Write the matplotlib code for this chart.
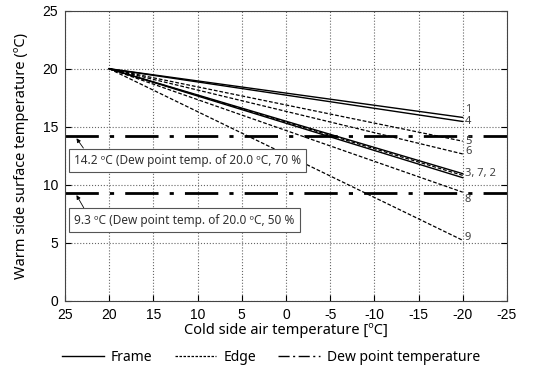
import numpy as np
import matplotlib
matplotlib.use("Agg")
from matplotlib import pyplot as plt
from matplotlib.lines import Line2D

plt.rcParams['font.family'] = ['Noto Sans', 'DejaVu Sans']
plt.rcParams['axes.unicode_minus'] = False

# cold side air temperature range of every line
cold_t = [20, -20]
# warm side surface temperature at 20 / -20 C
frame_ids = ['1', '4', '3', '2']
frame_start = [20.0, 20.0, 20.0, 20.0]
frame_end = [15.8, 15.45, 10.95, 10.6]
edge_ids = ['5', '6', '7', '8', '9']
edge_start = [20.0, 20.0, 20.0, 20.0, 20.0]
edge_end = [13.75, 12.65, 10.8, 9.35, 5.2]

dew_values = [14.2, 9.3]
dew_texts = ['14.2 ºC (Dew point temp. of 20.0 ºC, 70 %',
             '9.3 ºC (Dew point temp. of 20.0 ºC, 50 %']

# text labels at the right end of lines
end_labels = ['1', '4', '5', '6', '3, 7, 2', '8', '9']
end_label_y = [16.5, 15.45, 13.75, 12.85, 10.95, 8.7, 5.45]

xticks = [25, 20, 15, 10, 5, 0, -5, -10, -15, -20, -25]
yticks = [0, 5, 10, 15, 20, 25]

fig = plt.figure(figsize=(5.37, 3.72), dpi=100)
ax = fig.add_axes([0.121, 0.192, 0.823, 0.779])

for s, e in zip(frame_start, frame_end):
    ax.plot(cold_t, [s, e], color='black', lw=1.0, ls='-')
for s, e in zip(edge_start, edge_end):
    ax.plot(cold_t, [s, e], color='black', lw=0.9, ls=(0, (3, 1.5)))

for v in dew_values:
    ax.plot([25, -25], [v, v], color='black', lw=2.0, ls=(0, (12, 4, 1.5, 4)))

for lab, y in zip(end_labels, end_label_y):
    ax.text(-20.25, y, lab, fontsize=8, color='#404040', ha='left', va='center',
            zorder=5)

box_y = [12.1, 6.95]
for v, t, by in zip(dew_values, dew_texts, box_y):
    ax.annotate(t, xy=(23.7, v - 0.2), xytext=(24.0, by),
                fontsize=8.5, color='#303030', ha='left', va='center',
                bbox=dict(boxstyle='square,pad=0.45', fc='white', ec='#555555', lw=0.8),
                arrowprops=dict(arrowstyle='-|>', color='black', lw=0.6,
                                mutation_scale=6, shrinkA=0, shrinkB=0,
                                relpos=(0.06, 1.0)))

ax.set_xlim(25, -25)
ax.set_ylim(0, 25)
ax.set_xticks(xticks)
ax.set_yticks(yticks)
ax.tick_params(direction='in', length=4, labelsize=10, top=False, right=True, pad=5)
for lab in ax.get_xticklabels() + ax.get_yticklabels():
    lab.set_family(['Liberation Sans', 'DejaVu Sans'])
ax.grid(True, color='#666666', ls=':', lw=0.8)
for sp in ax.spines.values():
    sp.set_color('#444444')
    sp.set_linewidth(0.8)

ax.set_xlabel('Cold side air temperature [ºC]', fontsize=10.5, labelpad=1)
ax.set_ylabel('Warm side surface temperature (ºC)', fontsize=10.5, labelpad=10)

handles = [
    Line2D([], [], color='black', lw=1.0, ls='-'),
    Line2D([], [], color='black', lw=0.9, ls=(0, (2, 1.2))),
    Line2D([], [], color='black', lw=1.0, ls=(0, (8, 2.5, 1.5, 2.5))),
]
fig.legend(handles, ['Frame', 'Edge', 'Dew point temperature'], loc='center',
           bbox_to_anchor=(0.505, 0.04), ncol=3, frameon=False, fontsize=10,
           handlelength=3.0, columnspacing=1.6, handletextpad=0.5)

fig.savefig('out.png', dpi=100)
